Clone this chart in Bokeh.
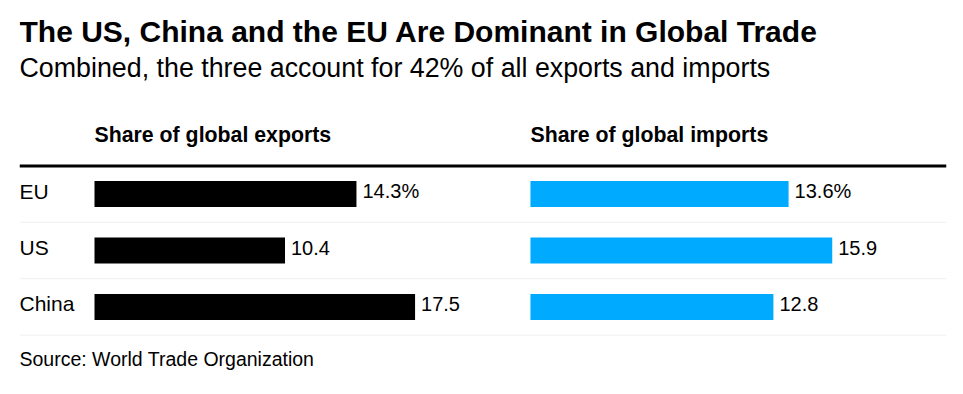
from bokeh.plotting import figure
from bokeh.layouts import column
from bokeh.models import Range1d, FactorRange, ColumnDataSource, LabelSet, Label, Span
from bokeh.embed import file_html
from bokeh.resources import INLINE
from bokeh.core.properties import value

# ---- data ----
countries = ["EU", "US", "China"]
exports = [14.3, 10.4, 17.5]
imports = [13.6, 15.9, 12.8]
export_labels = ["14.3%", "10.4", "17.5"]
import_labels = ["13.6%", "15.9", "12.8"]

title = "The US, China and the EU Are Dominant in Global Trade"
subtitle = "Combined, the three account for 42% of all exports and imports"
export_header = "Share of global exports"
import_header = "Share of global imports"
source_note = "Source: World Trade Organization"

FONT = "Liberation Sans"
BLUE = "#00AAFF"
W = 963
LEFT, RIGHT = 19, 17  # frame spans page x 19..946

exp_range = Range1d(-4.094, 46.51)
imp_range = Range1d(-26.92, 21.92)


def base_fig(height, y_range, x_range):
    f = figure(width=W, height=height, output_backend="svg", toolbar_location=None,
               x_range=x_range, y_range=y_range,
               x_axis_location=None, y_axis_location=None,
               min_border_left=LEFT, min_border_right=RIGHT,
               min_border_top=0, min_border_bottom=0)
    f.extra_x_ranges = {"imp": imp_range}
    f.grid.visible = False
    f.outline_line_color = None
    f.background_fill_color = "white"
    f.border_fill_color = "white"
    return f


def text_label(y, text, size, bold=False, **kw):
    return Label(y=y, text=text, text_font=FONT, text_font_size=size,
                 text_font_style="bold" if bold else "normal",
                 text_baseline="middle", text_align="left", text_color="black", **kw)


# ---- header block (page y 0..162) ----
head = base_fig(162, Range1d(162, 0), exp_range)
head.add_layout(text_label(31, title, "30px", bold=True, x=0, x_units="screen"))
head.add_layout(text_label(67, subtitle, "26.8px", x=0, x_units="screen"))
head.add_layout(text_label(134, export_header, "21.3px", bold=True, x=0))
head.add_layout(text_label(134, import_header, "21.3px", bold=True, x=0, x_range_name="imp"))

# ---- bars block (page y 162..338) ----
src = ColumnDataSource(dict(country=countries, exports=exports, imports=imports,
                            export_labels=export_labels, import_labels=import_labels))
body = base_fig(176, FactorRange(factors=countries[::-1], range_padding=0.06,
                                 range_padding_units="absolute"), exp_range)

for i in range(len(countries)):
    body.add_layout(Span(location=i, dimension="width", line_color="#efefef", line_width=1))
body.add_layout(Span(location=len(countries), dimension="width", line_color="black", line_width=3))

body.hbar(y="country", left=0, right="exports", height=0.46, source=src,
          fill_color="black", line_color=None)
body.hbar(y="country", left=0, right="imports", height=0.46, source=src,
          fill_color=BLUE, line_color=None, x_range_name="imp")

common = dict(source=src, text_baseline="middle", text_align="left", y_offset=3,
              text_font=value(FONT), text_color="black")
body.add_layout(LabelSet(x="exports", y="country", text="export_labels",
                         x_offset=6, text_font_size=value("20px"), **common))
body.add_layout(LabelSet(x="imports", y="country", text="import_labels",
                         x_offset=6, x_range_name="imp", text_font_size=value("20px"), **common))
body.add_layout(LabelSet(x=0, x_units="screen", y="country", text="country",
                         text_font_size=value("21px"), **common))

# ---- source block (page y 338..394) ----
foot = base_fig(56, Range1d(394, 338), exp_range)
foot.add_layout(text_label(358.5, source_note, "19.5px", x=0, x_units="screen"))

layout = column(head, body, foot, spacing=0)
open("out.html", "w").write(file_html(layout, INLINE))
